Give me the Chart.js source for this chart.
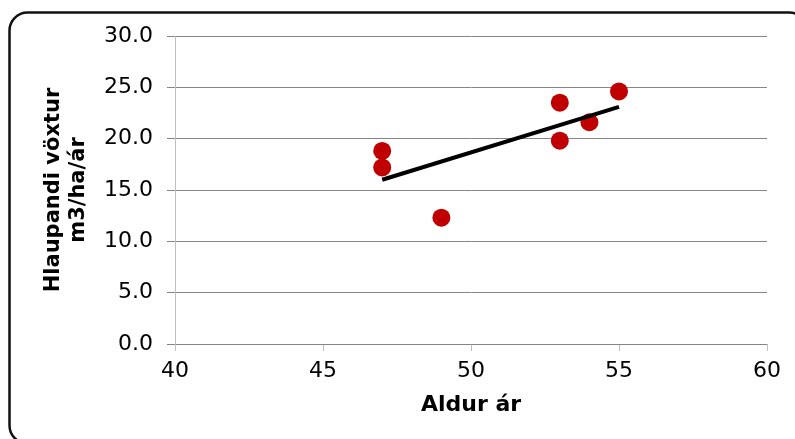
<!DOCTYPE html>
<html>
<head>
<meta charset="utf-8">
<script src="https://cdn.jsdelivr.net/npm/chart.js@4/dist/chart.umd.min.js"></script>
<style>
  html, body { margin: 0; padding: 0; background: #fff; }
  #wrap { width: 795px; height: 439px; position: relative; }
</style>
</head>
<body>
<div id="wrap"><canvas id="c"></canvas></div>
<script>
// Data
const ageYears = [47, 47, 49, 53, 53, 54, 55];
const growthValues = [18.8, 17.2, 12.3, 23.5, 19.8, 21.6, 24.6];
const trendX = [47, 55];
const trendY = [16.0, 23.1];
const xTicks = [40, 45, 50, 55, 60];
const yTicks = [0, 5, 10, 15, 20, 25, 30];
const xTitle = 'Aldur ár';
const yTitle = ['Hlaupandi vöxtur', 'm3/ha/ár'];

const pointsData = ageYears.map((x, i) => ({ x: x, y: growthValues[i] }));
const trendData = trendX.map((x, i) => ({ x: x, y: trendY[i] }));

const frame = {
  id: 'frame',
  beforeDraw(chart) {
    const ctx = chart.ctx;
    ctx.save();
    ctx.fillStyle = '#ffffff';
    ctx.fillRect(0, 0, chart.width, chart.height);
    ctx.restore();
  },
  afterDraw(chart) {
    const ctx = chart.ctx;
    ctx.save();
    ctx.strokeStyle = '#111111';
    ctx.lineWidth = 2.5;
    ctx.beginPath();
    ctx.roundRect(9.5, 12.5, 798, 431, 18);
    ctx.stroke();
    ctx.restore();
  }
};

new Chart(document.getElementById('c'), {
  type: 'scatter',
  data: {
    datasets: [
      {
        type: 'line',
        data: trendData,
        borderColor: '#000000',
        borderWidth: 4,
        pointRadius: 0,
        fill: false,
        tension: 0
      },
      {
        data: pointsData,
        backgroundColor: '#C00000',
        borderColor: '#C00000',
        borderWidth: 0,
        pointRadius: 9,
        pointHoverRadius: 9
      }
    ]
  },
  options: {
    responsive: true,
    maintainAspectRatio: false,
    animation: false,
    events: [],
    layout: { padding: { left: 20, right: 28, top: 36, bottom: 10 } },
    plugins: { legend: { display: false }, tooltip: { enabled: false } },
    scales: {
      x: {
        type: 'linear',
        min: 40, max: 60,
        afterBuildTicks(scale) { scale.ticks = xTicks.map(v => ({ value: v })); },
        afterFit(scale) { scale.height = 85; },
        grid: { drawOnChartArea: false, drawTicks: true, tickLength: 7, color: '#BFBFBF', lineWidth: 1 },
        border: { display: false },
        ticks: { color: '#000', padding: 7, font: { family: 'DejaVu Sans', size: 22 } },
        title: {
          display: true, text: xTitle, color: '#000',
          font: { family: 'DejaVu Sans', size: 22, weight: 'bold' },
          padding: { top: 0, bottom: 11 }
        }
      },
      y: {
        type: 'linear',
        min: 0, max: 30,
        afterBuildTicks(scale) { scale.ticks = yTicks.map(v => ({ value: v })); },
        afterFit(scale) { scale.width = 155; },
        grid: { color: '#868686', lineWidth: 1, tickLength: 8 },
        border: { display: true, color: '#BFBFBF', width: 1 },
        ticks: {
          color: '#000', padding: 14,
          font: { family: 'DejaVu Sans', size: 22 },
          callback: v => Number(v).toFixed(1)
        },
        title: {
          display: true, text: yTitle, color: '#000',
          font: { family: 'DejaVu Sans', size: 21, weight: 'bold' },
          padding: { top: 21, bottom: 0 }
        }
      }
    }
  },
  plugins: [frame]
});
</script>
</body>
</html>
